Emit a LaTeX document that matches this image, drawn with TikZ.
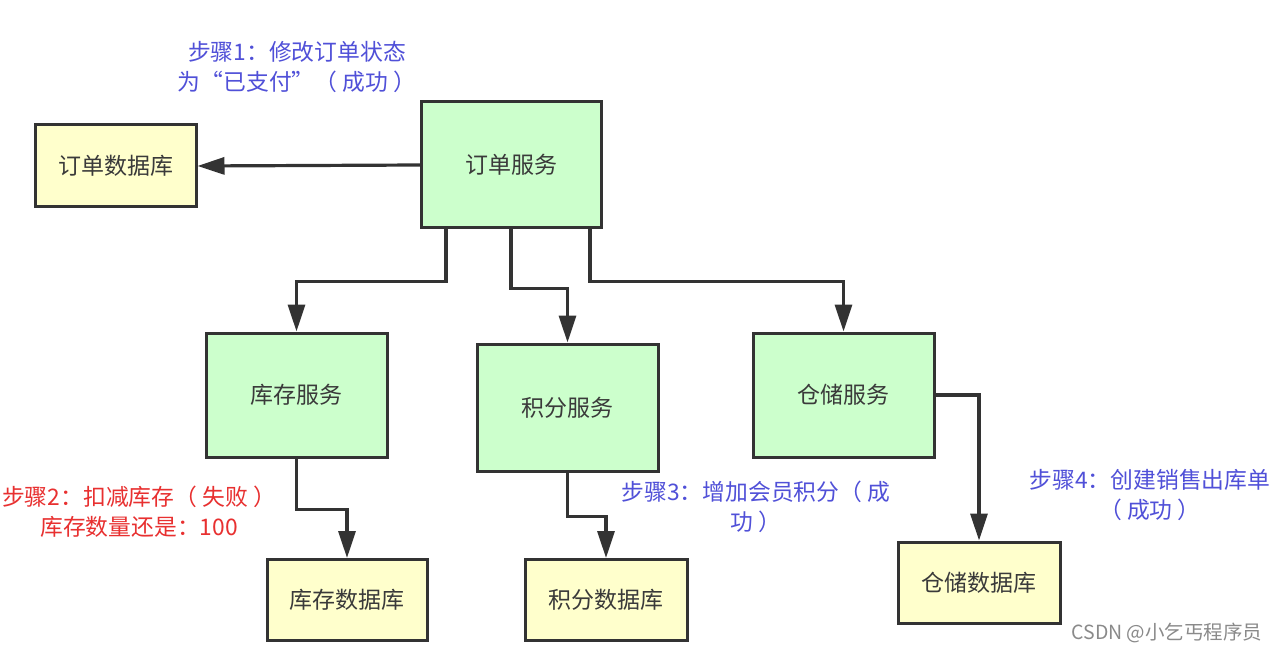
\documentclass[tikz,border=0pt]{standalone}
\usepackage{fontspec}
\setmainfont{Noto Sans CJK SC}
\usetikzlibrary{arrows.meta}
\definecolor{boxgreen}{HTML}{CCFFCC}
\definecolor{boxyellow}{HTML}{FFFFCC}
\definecolor{edge}{HTML}{333333}
\definecolor{labtext}{HTML}{3A3A3A}
\definecolor{stepblue}{HTML}{5050D8}
\definecolor{stepred}{HTML}{E83030}
\definecolor{wm}{HTML}{8A8A8A}
\tikzset{
  box/.style={draw=edge, line width=3pt, inner sep=0pt, text=labtext,
    font=\fontsize{23}{27}\selectfont},
  svc/.style={box, fill=boxgreen},
  db/.style={box, fill=boxyellow},
  arr/.style={draw=edge, line width=3.2pt, -{Triangle[length=27pt,width=17pt]}},
  note/.style={align=center, font=\fontsize{22.8}{30}\selectfont, inner sep=0pt}
}
\begin{document}
\begin{tikzpicture}[x=1pt,y=-1pt]
\useasboundingbox[fill=white] (0,0) rectangle (1279,652);
% nodes
\node[db, minimum width=161pt, minimum height=82pt] (odb) at (115.5,166) {订单数据库};
\node[svc, minimum width=180pt, minimum height=126pt] (osvc) at (511.5,165) {订单服务};
\node[svc, minimum width=181pt, minimum height=124pt] (isvc) at (296.5,395) {库存服务};
\node[svc, minimum width=181pt, minimum height=127pt] (psvc) at (567.5,407.5) {积分服务};
\node[svc, minimum width=181pt, minimum height=124pt] (wsvc) at (843.5,395) {仓储服务};
\node[db, minimum width=160pt, minimum height=81pt] (idb) at (347,600) {库存数据库};
\node[db, minimum width=162pt, minimum height=81pt] (pdb) at (606,600) {积分数据库};
\node[db, minimum width=162pt, minimum height=81pt] (wdb) at (979,582.5) {仓储数据库};
% connectors
\draw[arr] (osvc.west) -- (odb.east);
\draw[arr] ([xshift=-65.5pt]osvc.south) -- ++(0,52) -| (isvc.north);
\draw[arr] ([xshift=-0.5pt]osvc.south) -- ++(0,59) -| (psvc.north);
\draw[arr] ([xshift=78.5pt]osvc.south) -- ++(0,52) -| (wsvc.north);
\draw[arr] (isvc.south) -- ++(0,51) -| (idb.north);
\draw[arr] (psvc.south) -- ++(0,44) -| (pdb.north);
\draw[arr] (wsvc.east) -| (wdb.north);
% notes
\node[note, text=stepblue] (n1) at (297,67) {步骤1：修改订单状态\\为“已支付”（ 成功 ）};
\node[note, text=stepred] (n2) at (139,512) {步骤2：扣减库存（ 失败 ）\\库存数量还是：100};
\node[note, text=stepblue] (n3) at (756,507) {步骤3：增加会员积分（ 成\\功 ）};
\node[note, text=stepblue] (n4) at (1150,495) {步骤4：创建销售出库单\\（ 成功 ）};
\node[text=wm, font=\fontsize{19.5}{22}\selectfont, inner sep=0pt] (wmk) at (1167,633) {CSDN @小乞丐程序员};
\end{tikzpicture}
\end{document}
